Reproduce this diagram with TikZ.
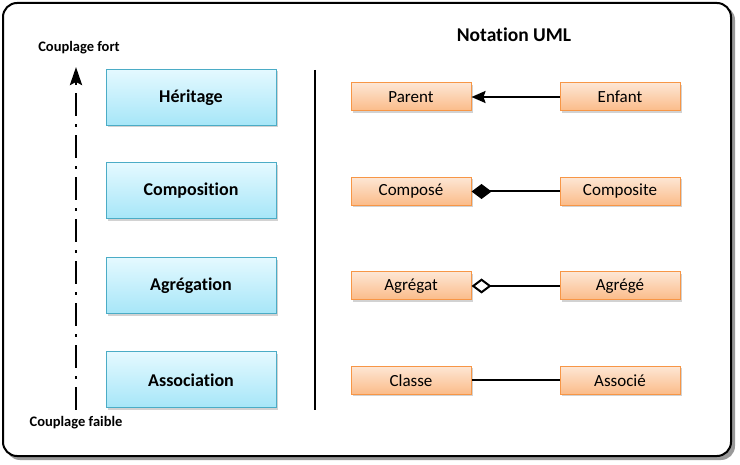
\documentclass[tikz,border=0pt]{standalone}
\usepackage{fontspec}
\setmainfont{Carlito}[Ligatures={NoCommon,NoRequired,NoContextual}]
\usetikzlibrary{shadows,arrows.meta}
\definecolor{bluetop}{HTML}{E4F9FF}
\definecolor{bluebot}{HTML}{A6E6F8}
\definecolor{blueline}{HTML}{4BACC6}
\definecolor{orgtop}{HTML}{FDE6D4}
\definecolor{orgbot}{HTML}{FBBB88}
\definecolor{orgline}{HTML}{F79646}
\tikzset{
  concept/.style={draw=blueline, line width=1pt, top color=bluetop, bottom color=bluebot,
    minimum width=170pt, minimum height=56pt, inner sep=0pt, font=\fontsize{18}{20}\selectfont\bfseries,
    drop shadow={shadow xshift=2pt, shadow yshift=-2pt, opacity=0.35}},
  cls/.style={draw=orgline, line width=1pt, top color=orgtop, bottom color=orgbot,
    minimum width=120pt, minimum height=28pt, inner sep=0pt, font=\fontsize{17}{19}\selectfont,
    drop shadow={shadow xshift=2pt, shadow yshift=-2pt, opacity=0.35}},
  lbl/.style={font=\fontsize{14.5}{16}\selectfont\bfseries, inner sep=0pt},
  link/.style={line width=2pt},
}
\begin{document}
\begin{tikzpicture}[x=1pt,y=-1pt]
\useasboundingbox (0,0) rectangle (740,465);
% frame
\fill[black!40, rounded corners=14pt] (6,6) rectangle (735,460);
\draw[line width=2pt, fill=white, rounded corners=14pt] (3,3) rectangle (731,456);
% title
\node[font=\fontsize{19.5}{22}\selectfont\bfseries] (title) at (514,35) {Notation UML};
% labels
\node[lbl] (fort) at (79,48) {Couplage fort};
\node[lbl] (faible) at (76,423) {Couplage faible};
\coordinate (abot) at (76,410);
\coordinate (atop) at (76,67);
\draw[line width=2.8pt, dash pattern=on 23pt off 8pt on 3pt off 8pt, dash phase=0pt,
  -{Stealth[length=18pt,width=12pt,inset=3pt]}] (abot) -- (atop);
% concept boxes
\node[concept] (her) at (191,97.5) {Héritage};
\node[concept] (comp) at (191,191) {Composition};
\node[concept] (agr) at (191,286) {Agrégation};
\node[concept] (ass) at (191,380) {Association};
% separator
\coordinate (s1) at (315,70);
\coordinate (s2) at (315,410);
\draw[line width=2.2pt] (s1) -- (s2);
% class boxes
\node[cls] (parent) at (411,97) {Parent};
\node[cls] (enfant) at (620,97) {Enfant};
\node[cls] (compose) at (411,191.5) {Composé};
\node[cls] (composite) at (620,191.5) {Composite};
\node[cls] (agregat) at (411,286) {Agrégat};
\node[cls] (agrege) at (620,286) {Agrégé};
\node[cls] (classe) at (411,380.5) {Classe};
\node[cls] (associe) at (620,380.5) {Associé};
% links
\draw[link, -{Stealth[length=14pt,width=12pt,inset=2pt]}] (enfant) -- (parent);
\draw[link, -{Diamond[length=20pt,width=15pt]}] (composite) -- (compose);
\draw[link, -{Diamond[open,length=20pt,width=15pt,line width=2pt]}] (agrege) -- (agregat);
\draw[link] (associe) -- (classe);
\end{tikzpicture}
\end{document}
